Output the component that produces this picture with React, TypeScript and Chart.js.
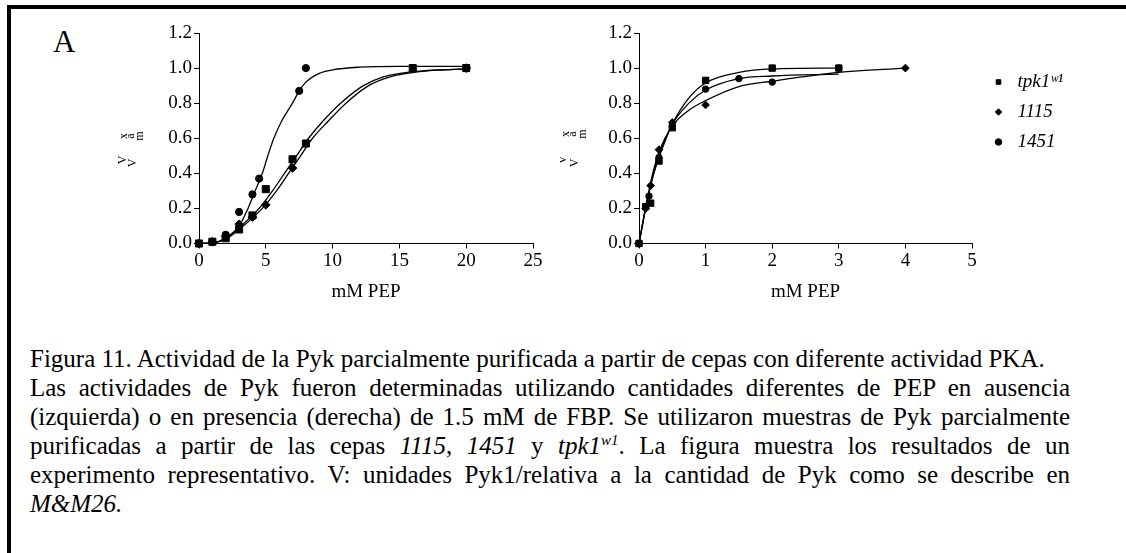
import React, { useEffect, useRef } from "react";
import { Chart, registerables } from "chart.js";

Chart.register(...registerables);

// ---------- shared ----------
const seriesNames = ["tpk1ʷ¹", "1115", "1451"];
const pointStyles = ["rect", "rectRot", "circle"];
const pointRadii = [5, 4.3, 3.6];

const yTickValues = [0, 0.2, 0.4, 0.6, 0.8, 1.0, 1.2];
const yTickLabels = ["0.0", "0.2", "0.4", "0.6", "0.8", "1.0", "1.2"];

// ---------- left panel (without FBP) ----------
const leftXTicks = [0, 5, 10, 15, 20, 25];
const leftXTickLabels = ["0", "5", "10", "15", "20", "25"];

const leftTpkX = [0, 1, 2, 3, 4, 5, 7, 8, 16, 20];
const leftTpkY = [0, 0.01, 0.03, 0.08, 0.16, 0.31, 0.48, 0.57, 1.0, 1.0];
const left1115X = [0, 1, 2, 3, 4, 5, 7, 20];
const left1115Y = [0, 0.01, 0.04, 0.11, 0.15, 0.22, 0.43, 1.0];
const left1451X = [0, 1, 2, 3, 4, 4.5, 7.5, 8, 20];
const left1451Y = [0, 0.01, 0.05, 0.18, 0.28, 0.37, 0.87, 1.0, 1.0];

// fitted curves
const leftFitTpkX = [0, 1, 2, 3, 4.5, 5.5, 6.4, 7.3, 8.2, 9.3, 10.6, 12.3, 13.8, 16, 20];
const leftFitTpkY = [0, 0.004, 0.03, 0.09, 0.2, 0.3, 0.4, 0.5, 0.6, 0.7, 0.8, 0.9, 0.95, 0.98, 0.995];
const leftFit1115X = [0, 1, 2, 3, 4.74, 5.8, 6.7, 7.6, 8.5, 9.7, 11.0, 12.7, 14.3, 16.5, 20];
const leftFit1115Y = [0, 0.003, 0.025, 0.08, 0.2, 0.3, 0.4, 0.5, 0.6, 0.7, 0.8, 0.9, 0.95, 0.98, 0.995];
const leftFit1451X = [0, 1, 2, 3, 3.67, 4.2, 4.74, 5.15, 5.6, 6.2, 7.0, 7.5, 8, 9, 10, 12, 15, 20];
const leftFit1451Y = [0, 0.003, 0.03, 0.1, 0.2, 0.3, 0.4, 0.5, 0.6, 0.7, 0.8, 0.87, 0.92, 0.97, 0.99, 1.005, 1.01, 1.01];

// ---------- right panel (with 1.5 mM FBP) ----------
const rightXTicks = [0, 1, 2, 3, 4, 5];
const rightXTickLabels = ["0", "1", "2", "3", "4", "5"];

const rightTpkX = [0, 0.1, 0.175, 0.3, 0.5, 1, 2, 3];
const rightTpkY = [0, 0.21, 0.23, 0.47, 0.66, 0.93, 1.0, 1.0];
const right1115X = [0, 0.1, 0.175, 0.3, 0.5, 1, 4];
const right1115Y = [0, 0.2, 0.33, 0.535, 0.69, 0.79, 1.0];
const right1451X = [0, 0.1, 0.15, 0.3, 0.5, 1, 1.5, 2, 3];
const right1451Y = [0, 0.21, 0.27, 0.49, 0.67, 0.88, 0.94, 0.92, 1.0];

const rightFitTpkX = [0, 0.1, 0.2, 0.3, 0.5, 0.75, 1, 1.5, 2, 3];
const rightFitTpkY = [0, 0.2, 0.37, 0.49, 0.68, 0.83, 0.915, 0.975, 0.995, 1.0];
const rightFit1115X = [0, 0.1, 0.2, 0.3, 0.5, 0.75, 1, 1.5, 2, 3, 4];
const rightFit1115Y = [0, 0.21, 0.39, 0.52, 0.67, 0.76, 0.815, 0.895, 0.925, 0.975, 1.0];
const rightFit1451X = [0, 0.1, 0.2, 0.3, 0.5, 0.75, 1, 1.5, 2, 3];
const rightFit1451Y = [0, 0.2, 0.37, 0.5, 0.68, 0.8, 0.875, 0.94, 0.955, 0.965];

const FONT = "'Liberation Serif', 'Times New Roman', serif";

function pts(xs: number[], ys: number[]) {
  return xs.map((x, i) => ({ x, y: ys[i] }));
}

const legendMover = {
  id: "legendMover",
  beforeDraw(chart: any) {
    const o = chart.options.plugins.legendMover;
    const lg = chart.legend;
    if (!o || !lg || !o.enabled) return;
    const w = lg.right - lg.left;
    const h = lg.bottom - lg.top;
    lg.left = o.left;
    lg.right = o.left + w;
    lg.top = o.top;
    lg.bottom = o.top + h;
  },
};

const vLabel = {
  id: "vLabel",
  afterDraw(chart: any) {
    const o = chart.options.plugins.vLabel;
    if (!o || !o.glyphs) return;
    const ctx = chart.ctx;
    const L = chart.chartArea.left;
    ctx.save();
    ctx.fillStyle = "#000";
    ctx.font = `12px ${FONT}`;
    ctx.textAlign = "center";
    ctx.textBaseline = "middle";
    for (const g of o.glyphs) {
      ctx.save();
      ctx.translate(L + g.dx, g.y);
      ctx.rotate(-Math.PI / 2);
      ctx.fillText(g.ch, 0, 0);
      ctx.restore();
    }
    ctx.restore();
  },
};

function buildConfig(p: any) {
  const markerSets = p.markers.map((m: number[][], i: number) => ({
    label: seriesNames[i],
    data: pts(m[0], m[1]),
    pointStyle: pointStyles[i],
    pointRadius: pointRadii[i] * p.markerScale,
    pointHoverRadius: pointRadii[i] * p.markerScale,
    backgroundColor: "#000",
    borderColor: "#000",
    borderWidth: 1,
    showLine: false,
    clip: false,
  }));
  const fitSets = p.fits.map((f: number[][], i: number) => ({
    label: "fit " + seriesNames[i],
    data: pts(f[0], f[1]),
    showLine: true,
    pointRadius: 0,
    borderColor: "#000",
    backgroundColor: "#000",
    borderWidth: 1.3,
    cubicInterpolationMode: "monotone",
    fill: false,
    clip: false,
  }));
  return {
    type: "scatter",
    data: { datasets: [...markerSets, ...fitSets] },
    options: {
      animation: false,
      responsive: false,
      devicePixelRatio: 1,
      events: [],
      layout: { autoPadding: false, padding: p.padding },
      scales: {
        x: {
          type: "linear",
          min: 0,
          max: p.xMax,
          afterBuildTicks: (s: any) => {
            s.ticks = p.xTicks.map((v: number) => ({ value: v }));
          },
          afterFit: (s: any) => {
            s.height = 60;
          },
          ticks: {
            callback: (_v: any, i: number) => p.xTickLabels[i],
            color: "#000",
            font: { family: FONT, size: 19 },
            padding: 1,
            maxRotation: 0,
            autoSkip: false,
          },
          grid: { display: true, drawOnChartArea: false, drawTicks: true, tickLength: 5, color: "#000", lineWidth: 1 },
          border: { display: true, color: "#000", width: 1 },
          title: {
            display: true,
            text: "mM PEP",
            color: "#000",
            font: { family: FONT, size: 19 },
            padding: { top: 3, bottom: 0 },
          },
        },
        y: {
          type: "linear",
          min: 0,
          max: 1.2,
          afterBuildTicks: (s: any) => {
            s.ticks = yTickValues.map((v) => ({ value: v }));
          },
          afterFit: (s: any) => {
            s.width = p.yWidth;
          },
          ticks: {
            callback: (_v: any, i: number) => yTickLabels[i],
            color: "#000",
            font: { family: FONT, size: 19 },
            padding: 2,
            autoSkip: false,
          },
          grid: { display: true, drawOnChartArea: false, drawTicks: true, tickLength: 5, color: "#000", lineWidth: 1 },
          border: { display: true, color: "#000", width: 1 },
        },
      },
      plugins: {
        tooltip: { enabled: false },
        legend: p.legend
          ? {
              display: true,
              position: "chartArea",
              align: "start",
              labels: {
                usePointStyle: true,
                boxWidth: 19,
                boxHeight: 4.6,
                padding: 11,
                color: "#000",
                font: { family: FONT, size: 19, style: "italic" },
                filter: (item: any) => item.datasetIndex < 3,
              },
            }
          : { display: false },
        legendMover: p.legend ? { enabled: true, left: p.legendLeft, top: p.legendTop } : { enabled: false },
        vLabel: { glyphs: p.glyphs },
      },
    },
    plugins: [legendMover, vLabel],
  };
}

function Panel({ cfg, left, width, height }: any) {
  const ref = useRef<HTMLCanvasElement | null>(null);
  useEffect(() => {
    const chart = new Chart(ref.current as HTMLCanvasElement, buildConfig(cfg) as any);
    return () => chart.destroy();
  }, []);
  return (
    <canvas
      ref={ref}
      width={width}
      height={height}
      style={{ position: "absolute", left, top: 0, width, height }}
    />
  );
}

const leftCfg = {
  markers: [
    [leftTpkX, leftTpkY],
    [left1115X, left1115Y],
    [left1451X, left1451Y],
  ],
  fits: [
    [leftFitTpkX, leftFitTpkY],
    [leftFit1115X, leftFit1115Y],
    [leftFit1451X, leftFit1451Y],
  ],
  markerScale: 1,
  xMax: 25,
  xTicks: leftXTicks,
  xTickLabels: leftXTickLabels,
  yWidth: 99,
  padding: { left: 0, right: 27, top: 33, bottom: 16.5 },
  legend: false,
  glyphs: [
    { ch: "x", dx: -75, y: 136 },
    { ch: "a", dx: -68, y: 136 },
    { ch: "m", dx: -59, y: 136 },
    { ch: "V", dx: -76, y: 160 },
    { ch: "V", dx: -66, y: 163 },
  ],
};

const rightCfg = {
  markers: [
    [rightTpkX, rightTpkY],
    [right1115X, right1115Y],
    [right1451X, right1451Y],
  ],
  fits: [
    [rightFitTpkX, rightFitTpkY],
    [rightFit1115X, rightFit1115Y],
    [rightFit1451X, rightFit1451Y],
  ],
  markerScale: 0.9,
  xMax: 5,
  xTicks: rightXTicks,
  xTickLabels: rightXTickLabels,
  yWidth: 79,
  padding: { left: 0, right: 154, top: 33, bottom: 16.5 },
  legend: true,
  legendLeft: 418,
  legendTop: 61.5,
  glyphs: [
    { ch: "x", dx: -73, y: 134 },
    { ch: "a", dx: -66, y: 134 },
    { ch: "m", dx: -56, y: 134 },
    { ch: "V", dx: -76, y: 160 },
    { ch: "V", dx: -64, y: 163 },
  ],
};

const justified: React.CSSProperties = {
  textAlign: "justify",
  textAlignLast: "justify" as any,
  whiteSpace: "nowrap",
  wordSpacing: "-2px",
};

export default function App() {
  return (
    <div
      style={{
        position: "absolute",
        left: 0,
        top: 0,
        width: 1126,
        height: 553,
        overflow: "hidden",
        background: "#fff",
        fontFamily: FONT,
        color: "#000",
      }}
    >
      <div
        style={{
          position: "absolute",
          left: 7,
          top: 5,
          width: 1200,
          height: 700,
          borderTop: "4px solid #000",
          borderLeft: "4px solid #000",
        }}
      />
      <div style={{ position: "absolute", left: 53, top: 26, fontSize: 31, lineHeight: "31px" }}>A</div>
      <Panel cfg={leftCfg} left={100} width={460} height={320} />
      <Panel cfg={rightCfg} left={560} width={566} height={320} />
      <div
        style={{
          position: "absolute",
          left: 30,
          top: 344,
          width: 1040,
          fontSize: 25,
          lineHeight: "29px",
        }}
      >
        <div style={{ whiteSpace: "nowrap" }}>
          Figura 11. Actividad de la Pyk parcialmente purificada a partir de cepas con diferente actividad PKA.
        </div>
        <div style={justified}>
          Las actividades de Pyk fueron determinadas utilizando cantidades diferentes de PEP en ausencia
        </div>
        <div style={justified}>
          (izquierda) o en presencia (derecha) de 1.5 mM de FBP. Se utilizaron muestras de Pyk parcialmente
        </div>
        <div style={justified}>
          purificadas a partir de las cepas <i>1115</i>, <i>1451</i> y{" "}
          <i>
            tpk1<sup style={{ fontSize: 15, lineHeight: 0 }}>w1</sup>
          </i>
          . La figura muestra los resultados de un
        </div>
        <div style={justified}>
          experimento representativo. V: unidades Pyk1/relativa a la cantidad de Pyk como se describe en
        </div>
        <div>
          <i>M&amp;M26.</i>
        </div>
      </div>
    </div>
  );
}
